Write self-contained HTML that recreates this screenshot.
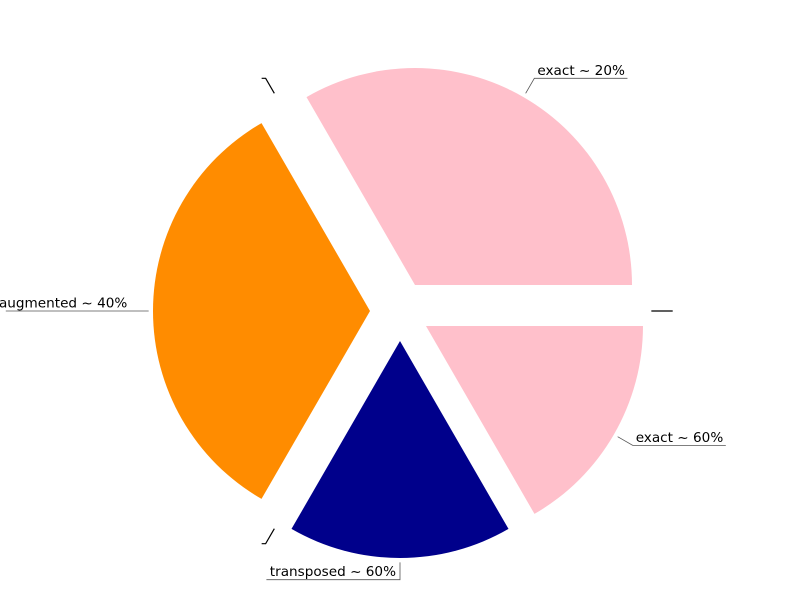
<!DOCTYPE html>
<html><head><meta charset="utf-8"><style>body{margin:0;background:#fff}svg{display:block}</style></head>
<body>
<svg id="chart" width="800" height="600" xmlns="http://www.w3.org/2000/svg" font-family="DejaVu Sans, Liberation Sans, sans-serif" font-size="13.6"></svg>
<script>
const labels = ["exact ~ 20%", "", "augmented ~ 40%", "", "transposed ~ 60%", "exact ~ 60%", ""];
const values = [2, 0, 2, 0, 1, 1, 0];
const colors = ["pink", "pink", "darkorange", "darkorange", "darkblue", "pink", "pink"];
const explode = 30, R = 217, cx = 400, cy = 311;
const svg = document.getElementById('chart');
const NS = 'http://www.w3.org/2000/svg';
const total = values.reduce((a,b)=>a+b,0);
let start = 0;
values.forEach((v,i)=>{
  const a0 = start/total*2*Math.PI, a1 = (start+v)/total*2*Math.PI;
  start += v;
  const mid = (a0+a1)/2;
  const ax = cx + explode*Math.cos(mid), ay = cy - explode*Math.sin(mid);
  if (v > 0) {
    const p = document.createElementNS(NS,'path');
    const x0 = ax+R*Math.cos(a0), y0 = ay-R*Math.sin(a0);
    const x1 = ax+R*Math.cos(a1), y1 = ay-R*Math.sin(a1);
    const large = (a1-a0) > Math.PI ? 1 : 0;
    p.setAttribute('d', `M${ax},${ay} L${x0},${y0} A${R},${R} 0 ${large} 0 ${x1},${y1} Z`);
    p.setAttribute('fill', colors[i]);
    
    
    svg.appendChild(p);
  }
  const sx = ax+1.02*R*Math.cos(mid), sy = ay-1.02*R*Math.sin(mid);
  const ex = ax+1.1*R*Math.cos(mid), ey = ay-1.1*R*Math.sin(mid);
  const right = Math.cos(mid) > 0.01;
  const txt = labels[i];
  const tw = txt.length * 8.1;
  const ulen = txt ? tw + 4 : 4;
  const ux = right ? ex + ulen : ex - ulen;
  const l = document.createElementNS(NS,'polyline');
  l.setAttribute('points', `${sx},${sy} ${ex},${ey} ${ux},${ey}`);
  l.setAttribute('fill','none');
  l.setAttribute('stroke', txt ? '#555' : '#000');
  l.setAttribute('stroke-width', txt ? 0.8 : 1.2);
  
  
  svg.appendChild(l);
  if (txt) {
    const t = document.createElementNS(NS,'text');
    t.setAttribute('x', right ? ex + 3 : ex - 4);
    t.setAttribute('y', ey - 3.5);
    t.setAttribute('text-anchor', right ? 'start' : 'end');
    t.textContent = txt;
    
    
    svg.appendChild(t);
  }
});
</script>
</body></html>
